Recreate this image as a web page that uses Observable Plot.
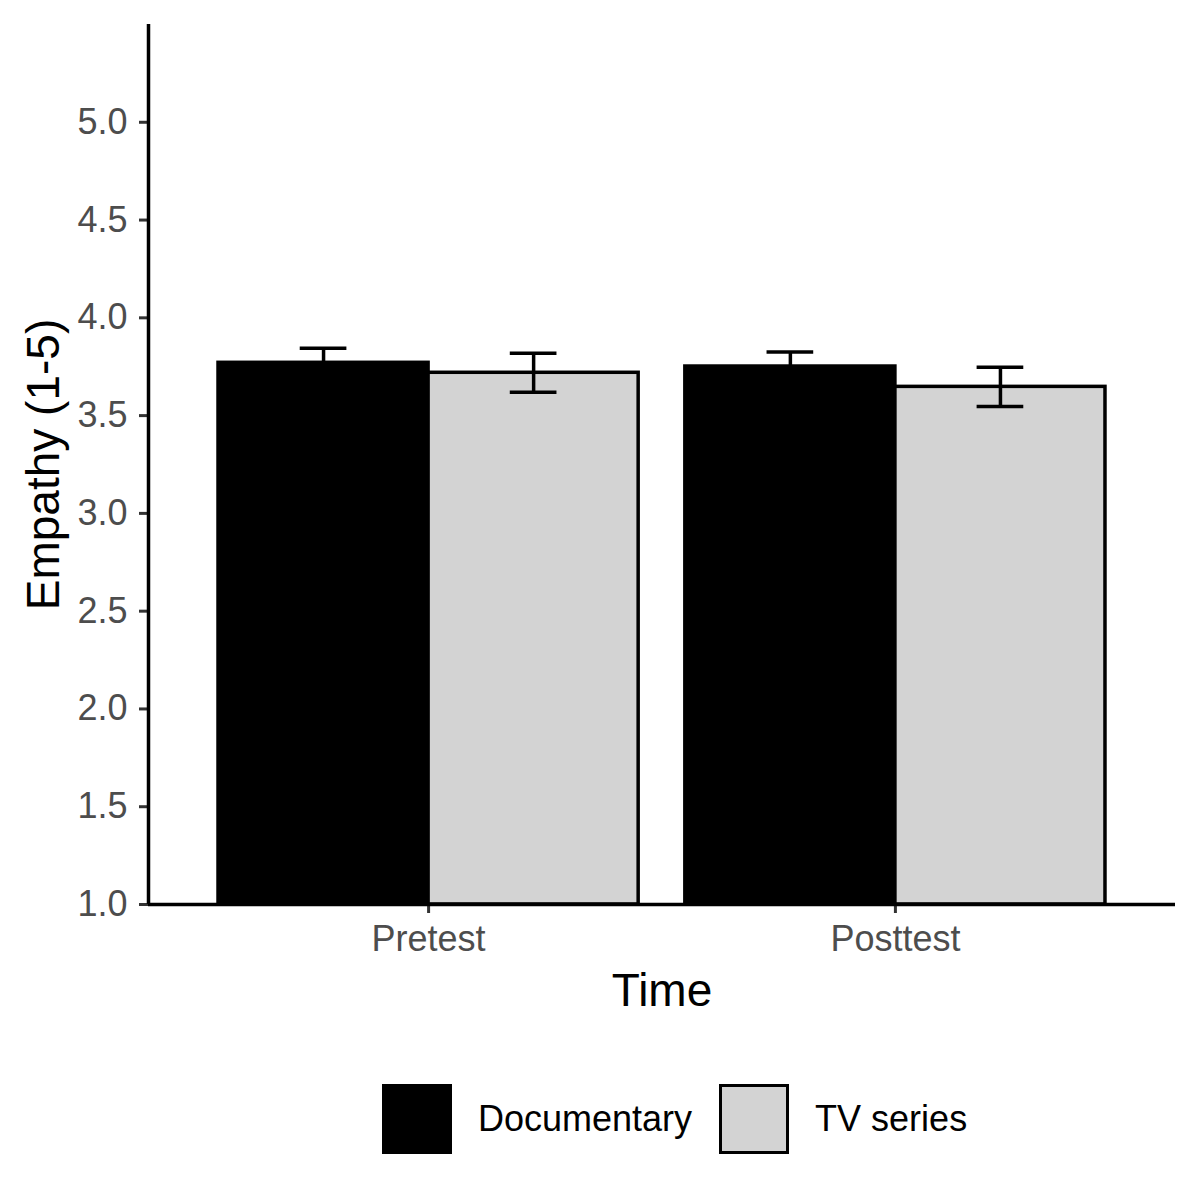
<!DOCTYPE html>
<html>
<head>
<meta charset="utf-8">
<script src="https://cdn.jsdelivr.net/npm/d3@7"></script>
<script src="https://cdn.jsdelivr.net/npm/@observablehq/plot@0.6"></script>
<style>
  body { margin: 0; background: #fff; font-family: "Liberation Sans", Arial, sans-serif; }
  #legend { display: flex; align-items: center; margin-left: 382px; margin-top: 44px; }
  .sw { width: 70px; height: 70px; box-sizing: border-box; border: 3px solid #000; }
  .lab { font-size: 36px; color: #000; margin-left: 26px; margin-right: 27px; }
</style>
</head>
<body>
<div id="chart"></div>
<div id="legend"></div>
<script>
const times = ["Pretest", "Posttest"];
const groups = ["Documentary", "TV series"];
const docMeans = [3.770, 3.751];
const docSE = [0.075, 0.074];
const tvMeans = [3.719, 3.647];
const tvSE = [0.100, 0.100];
const yTicks = [1.0, 1.5, 2.0, 2.5, 3.0, 3.5, 4.0, 4.5, 5.0];
const colors = ["#000000", "#D3D3D3"];
const xLabel = "Time";
const yLabel = "Empathy (1-5)";

const dodge = 0.45;
const capHalf = 0.05;
const data = [];
times.forEach((t, i) => {
  [[docMeans, docSE], [tvMeans, tvSE]].forEach(([m, s], g) => {
    const xc = i + 1 + (g - 0.5) * dodge;
    data.push({
      time: t, group: groups[g], mean: m[i], se: s[i],
      x: xc, x1: xc - dodge / 2, x2: xc + dodge / 2,
      lo: m[i] - s[i], hi: m[i] + s[i],
      c1: xc - capHalf, c2: xc + capHalf
    });
  });
});

const W = 1200, H = 1040;
const SW = 3.5;
const chart = Plot.plot({
  width: W, height: H,
  marginLeft: 148, marginRight: 25, marginTop: 24, marginBottom: H - 904,
  style: { fontFamily: "Liberation Sans, Arial, sans-serif", background: "#fff" },
  x: { domain: [0.4, 2.6], axis: null },
  y: { domain: [1, 5.5], axis: null },
  color: { domain: groups, range: colors },
  marks: [
    Plot.rectY(data, { x1: "x1", x2: "x2", y1: 1, y2: "mean", fill: "group", stroke: "#000", strokeWidth: SW }),
    Plot.ruleX(data, { x: "x", y1: "lo", y2: "hi", stroke: "#000", strokeWidth: SW }),
    Plot.ruleY(data, { y: "hi", x1: "c1", x2: "c2", stroke: "#000", strokeWidth: SW }),
    Plot.ruleY(data, { y: "lo", x1: "c1", x2: "c2", stroke: "#000", strokeWidth: SW }),
    Plot.axisY({ ticks: yTicks, tickFormat: d3.format(".1f"), tickSize: 9, tickPadding: 12,
      fontSize: 36, fill: "#4D4D4D", stroke: "#333333", strokeWidth: 3, label: null }),
    Plot.axisX({ ticks: [1, 2], tickFormat: d => times[d - 1], tickSize: 9, tickPadding: 12,
      fontSize: 36, fill: "#4D4D4D", stroke: "#333333", strokeWidth: 3, label: null }),
    Plot.ruleX([0.4], { y1: 1, y2: 5.5, stroke: "#000", strokeWidth: SW }),
    Plot.ruleY([1], { x1: 0.4, x2: 2.6, stroke: "#000", strokeWidth: SW }),
    Plot.text([xLabel], { frameAnchor: "bottom", lineAnchor: "bottom", dy: 101, fontSize: 46, fill: "#000" }),
    Plot.text([yLabel], { frameAnchor: "left", textAnchor: "middle", rotate: -90, lineAnchor: "middle", dx: -104, fontSize: 46, fill: "#000" })
  ]
});
document.getElementById("chart").appendChild(chart);

const legend = document.getElementById("legend");
groups.forEach((g, i) => {
  const sw = document.createElement("div");
  sw.className = "sw";
  sw.style.background = colors[i];
  const lab = document.createElement("div");
  lab.className = "lab";
  lab.textContent = g;
  legend.appendChild(sw);
  legend.appendChild(lab);
});
</script>
</body>
</html>
